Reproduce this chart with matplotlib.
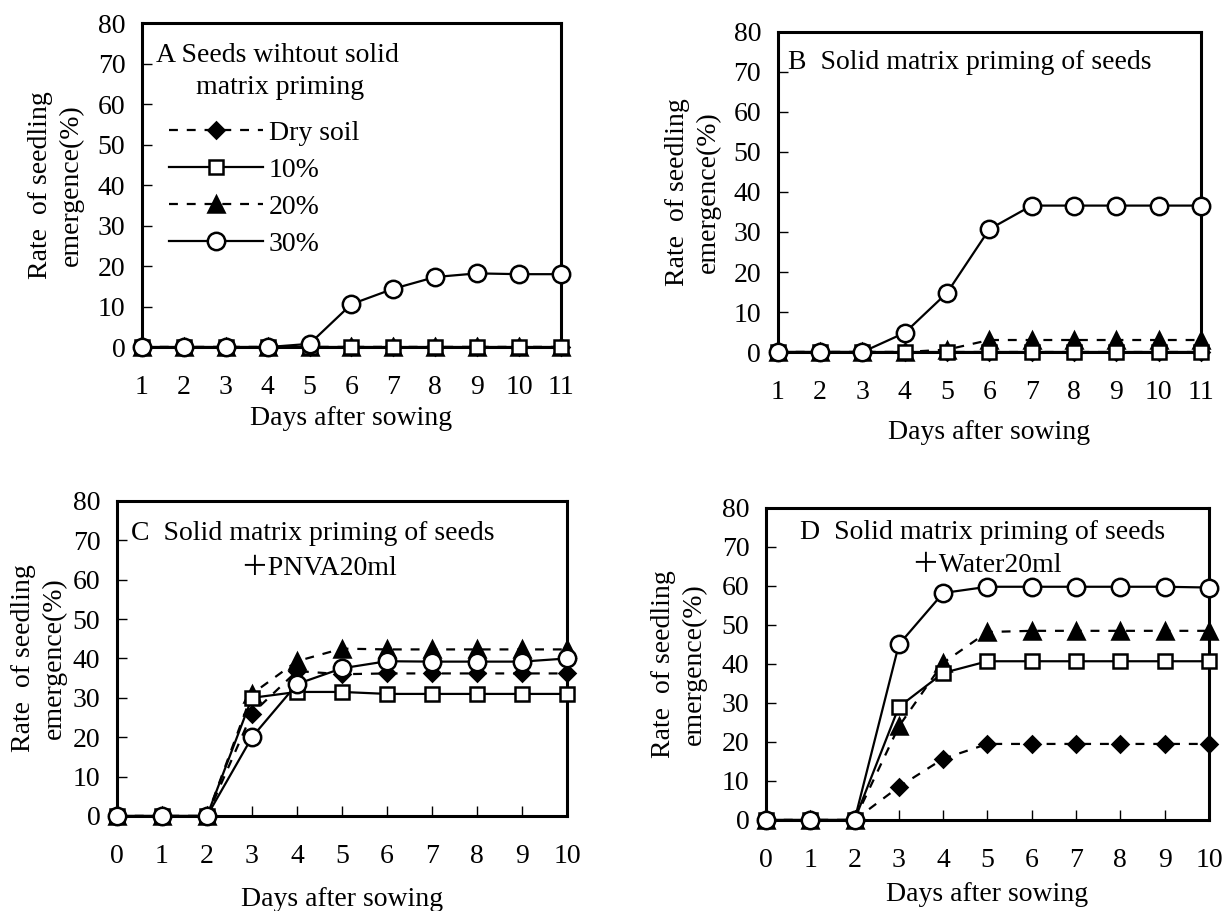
import matplotlib
matplotlib.use("Agg")
from matplotlib import pyplot as plt

plt.rcParams['font.family'] = ['Liberation Serif', 'Noto Sans CJK JP']

# days after sowing
days_ab = [1, 2, 3, 4, 5, 6, 7, 8, 9, 10, 11]
days_cd = [0, 1, 2, 3, 4, 5, 6, 7, 8, 9, 10]

series_names = ['Dry soil', '10%', '20%', '30%']

# A: seeds without solid matrix priming
a_dry = [0, 0, 0, 0, 0, 0, 0, 0, 0, 0, 0]
a_10 = [0, 0, 0, 0, 0, 0, 0, 0, 0, 0, 0]
a_20 = [0, 0, 0, 0, 0, 0, 0, 0, 0, 0, 0]
a_30 = [0, 0, 0, 0, 0.8, 10.6, 14.4, 17.3, 18.2, 18.0, 18.0]

# B: solid matrix priming
b_dry = [0, 0, 0, 0, 0, 0, 0, 0, 0, 0, 0]
b_10 = [0, 0, 0, 0, 0, 0, 0, 0, 0, 0, 0]
b_20 = [0, 0, 0, 0, 0.6, 3.0, 3.0, 3.0, 3.0, 3.0, 3.0]
b_30 = [0, 0, 0, 4.8, 14.8, 30.7, 36.6, 36.6, 36.6, 36.6, 36.6]

# C: solid matrix priming + PNVA 20ml
c_dry = [0, 0, 0, 26.0, 36.8, 36.0, 36.2, 36.2, 36.2, 36.2, 36.2]
c_10 = [0, 0, 0, 30.0, 31.5, 31.5, 31.0, 31.0, 31.0, 31.0, 31.0]
c_20 = [0, 0, 0, 31.0, 39.3, 42.5, 42.3, 42.3, 42.3, 42.3, 42.3]
c_30 = [0, 0, 0, 20.0, 33.5, 37.5, 39.3, 39.2, 39.2, 39.2, 40.0]

# D: solid matrix priming + water 20ml
d_dry = [0, 0, 0, 8.5, 15.7, 19.5, 19.5, 19.5, 19.5, 19.5, 19.5]
d_10 = [0, 0, 0, 29.0, 37.7, 40.7, 40.7, 40.7, 40.7, 40.7, 40.7]
d_20 = [0, 0, 0, 24.0, 40.3, 48.2, 48.5, 48.5, 48.5, 48.5, 48.5]
d_30 = [0, 0, 0, 45.0, 58.2, 59.8, 59.8, 59.8, 59.8, 59.8, 59.6]

FS = 20
dashed = (0, (4, 4))
styles = {
    'Dry soil': dict(marker='D', ls=dashed, mfc='black', ms=8, z=3),
    '10%': dict(marker='s', ls='-', mfc='white', ms=10, z=5),
    '20%': dict(marker='^', ls=dashed, mfc='black', ms=11, z=4),
    '30%': dict(marker='o', ls='-', mfc='white', ms=12.5, z=6),
}


def draw_panel(ax, days, values, ylab_x):
    lines = []
    for name, y in zip(series_names, values):
        st = styles[name]
        ln, = ax.plot(days, y, color='black', lw=1.6, ls=st['ls'],
                      marker=st['marker'], ms=st['ms'], mfc=st['mfc'],
                      mec='black', mew=1.8, clip_on=False, zorder=st['z'],
                      label=name)
        lines.append(ln)
    ax.set_xlim(days[0], days[-1])
    ax.set_ylim(0, 80)
    ax.set_xticks(days)
    ax.set_yticks(range(0, 81, 10))
    ax.tick_params(direction='in', length=7, width=1, labelsize=FS)
    ax.tick_params(axis='y', pad=12)
    ax.tick_params(axis='x', pad=20)
    for sp in ax.spines.values():
        sp.set_linewidth(2.2)
    ax.text(ylab_x, 0.5, 'Rate  of seedling\nemergence(%)', rotation=90,
            transform=ax.transAxes, ha='center', va='center',
            multialignment='center', fontsize=FS, linespacing=1.3)
    return lines


fig = plt.figure(figsize=(12.25, 9.11), dpi=100)
ax_a = fig.add_axes([0.1159, 0.619, 0.342, 0.3557])
ax_b = fig.add_axes([0.635, 0.6136, 0.3453, 0.3513])
ax_c = fig.add_axes([0.0955, 0.1043, 0.3673, 0.3458])
ax_d = fig.add_axes([0.6253, 0.0999, 0.3616, 0.3425])

lines_a = draw_panel(ax_a, days_ab, [a_dry, a_10, a_20, a_30], -0.206)
draw_panel(ax_b, days_ab, [b_dry, b_10, b_20, b_30], -0.20)
draw_panel(ax_c, days_cd, [c_dry, c_10, c_20, c_30], -0.174)
draw_panel(ax_d, days_cd, [d_dry, d_10, d_20, d_30], -0.197)

# x labels
ax_a.text(0.5, -0.22, 'Days after sowing', transform=ax_a.transAxes,
          ha='center', va='center', fontsize=FS)
ax_b.text(0.5, -0.25, 'Days after sowing', transform=ax_b.transAxes,
          ha='center', va='center', fontsize=FS)
ax_c.text(0.5, -0.265, 'Days after sowing', transform=ax_c.transAxes,
          ha='center', va='center', fontsize=FS)
ax_d.text(0.5, -0.24, 'Days after sowing', transform=ax_d.transAxes,
          ha='center', va='center', fontsize=FS)

# panel titles
ax_a.text(0.033, 0.90, 'A Seeds wihtout solid', transform=ax_a.transAxes,
          ha='left', va='center', fontsize=FS)
ax_a.text(0.33, 0.80, 'matrix priming', transform=ax_a.transAxes,
          ha='center', va='center', fontsize=FS)
ax_b.text(0.024, 0.906, 'B  Solid matrix priming of seeds',
          transform=ax_b.transAxes, ha='left', va='center', fontsize=FS)
ax_c.text(0.031, 0.898, 'C  Solid matrix priming of seeds',
          transform=ax_c.transAxes, ha='left', va='center', fontsize=FS)
ax_c.text(0.447, 0.787, '＋PNVA20ml', transform=ax_c.transAxes,
          ha='center', va='center', fontsize=FS)
ax_d.text(0.077, 0.92, 'D  Solid matrix priming of seeds',
          transform=ax_d.transAxes, ha='left', va='center', fontsize=FS)
ax_d.text(0.497, 0.817, '＋Water20ml', transform=ax_d.transAxes,
          ha='center', va='center', fontsize=FS)

ax_a.legend(handles=lines_a, loc='upper left', bbox_to_anchor=(0.064, 0.70),
            frameon=False, fontsize=FS, numpoints=1, handlelength=3.4,
            handletextpad=0.2, labelspacing=0.42, borderpad=0,
            borderaxespad=0)

fig.savefig('out.png', dpi=100)
